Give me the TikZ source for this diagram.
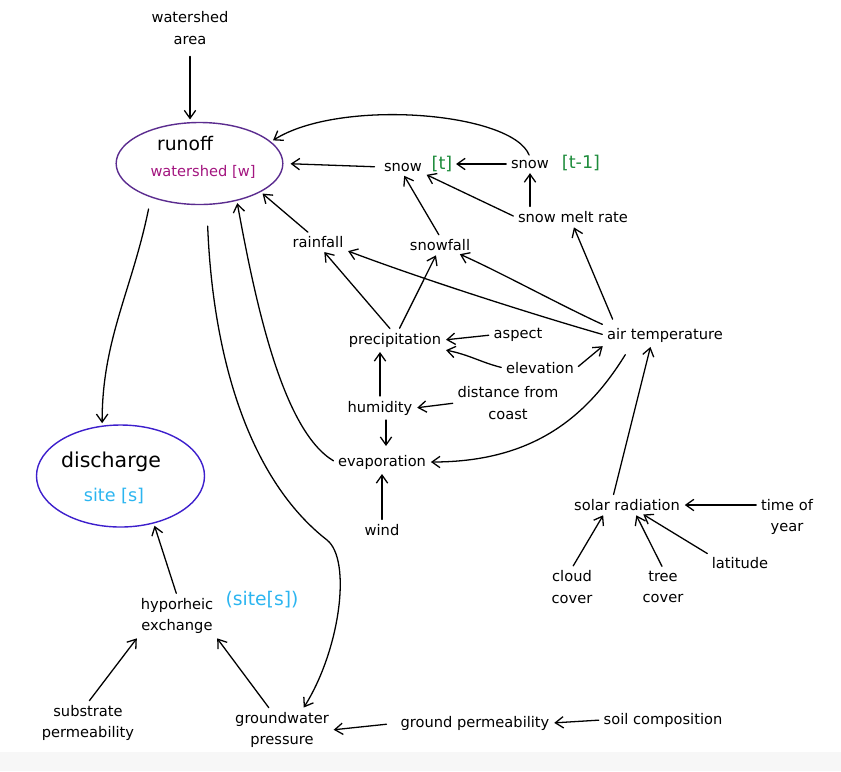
\documentclass[tikz,border=0pt]{standalone}
\usepackage{fontspec}
\setmainfont{DejaVu Sans}
\usetikzlibrary{arrows.meta,calc,shapes.geometric}
\definecolor{runoffc}{HTML}{5B2C8F}
\definecolor{wshedc}{HTML}{A3157F}
\definecolor{dischc}{HTML}{3D1FCC}
\definecolor{sitec}{HTML}{2CB5F0}
\definecolor{snowc}{HTML}{1E8C3C}
\begin{document}
\begin{tikzpicture}[x=0.03cm,y=-0.03cm,
  lbl/.style={font=\fontsize{12.5}{18.5}\selectfont, inner sep=2pt, align=center},
  tag/.style={font=\fontsize{15}{17}\selectfont, inner sep=1pt},
  blob/.style={ellipse, line width=1.2pt, inner sep=0pt},
  arr/.style={-{Straight Barb[length=2.4mm,width=3.4mm]}, line width=1.1pt, line cap=round, shorten >=2pt, shorten <=2pt},
]
\useasboundingbox (0,0) rectangle (841,771);
\fill[black!3] (0,752) rectangle (841,771);

% ---- main blobs
\node[blob, draw=runoffc, minimum width=5.0cm, minimum height=2.46cm] (runoff) at (199.5,163.5) {};
\node[font=\fontsize{16}{18}\selectfont, inner sep=1pt] (runofft) at (185,144) {runoff};
\node[font=\fontsize{12.5}{14}\selectfont, text=wshedc, inner sep=1pt] (runoffw) at (203,172) {watershed [w]};

\node[blob, draw=dischc, minimum width=5.04cm, minimum height=3.06cm] (disch) at (120.5,476) {};
\node[font=\fontsize{17.5}{20}\selectfont, inner sep=1pt] (discht) at (111,462) {discharge};
\node[font=\fontsize{15}{17}\selectfont, text=sitec, inner sep=1pt] (dischs) at (114,496) {site [s]};

% ---- labels
\node[lbl] (wa) at (190,28) {watershed\\area};
\node[lbl] (snowt) at (403,167) {snow};
\node[tag, text=snowc] (snowtb) at (442,164) {[t]};
\node[lbl] (snowtm1) at (530,164) {snow};
\node[tag, text=snowc] (snowtm1b) at (581,163) {[t-1]};
\node[lbl] (snowmelt) at (573,217) {snow melt rate};
\node[lbl] (rainfall) at (318,242) {rainfall};
\node[lbl] (snowfall) at (440,245) {snowfall};
\node[lbl] (precip) at (395,340) {precipitation};
\node[lbl] (aspect) at (518,335) {aspect};
\node[lbl] (airtemp) at (665,335) {air temperature};
\node[lbl] (elev) at (540,368) {elevation};
\node[lbl] (humid) at (380,408) {humidity};
\node[lbl] (dist) at (508,403) {distance from\\coast};
\node[lbl] (evap) at (382,462) {evaporation};
\node[lbl] (wind) at (382,530) {wind};
\node[lbl] (solar) at (627,505) {solar radiation};
\node[lbl] (timey) at (787,517) {time of\\year};
\node[lbl] (lat) at (740,563) {latitude};
\node[lbl] (cloud) at (572,587) {cloud\\cover};
\node[lbl] (tree) at (663,587) {tree\\cover};
\node[lbl] (hypo) at (177,616) {hyporheic\\exchange};
\node[tag, font=\fontsize{16}{18}\selectfont, text=sitec] (hyposite) at (262,600) {(site[s])};
\node[lbl] (subst) at (88,723) {substrate\\permeability};
\node[lbl] (gw) at (282,730) {groundwater\\pressure};
\node[lbl] (gperm) at (475,723) {ground permeability};
\node[lbl] (soil) at (663,720) {soil composition};

% ---- connectors
\draw[arr, shorten <=8pt] (wa.south) -- (wa.south |- runoff.north);
\draw[arr, shorten <=6pt, shorten >=6pt] (snowt.west) -- (runoff.east);
\draw[arr, shorten <=2pt] (snowtm1.north) .. controls (512,112) and (340,98) .. (runoff.17);
\draw[arr] (snowtm1.west) -- (snowtb.east);
\draw[arr] (snowmelt.north -| snowtm1) -- (snowtm1.south);
\draw[arr] (snowmelt.west) -- (snowt.south east);
\draw[arr] (snowfall.north) -- (snowt.south);
\draw[arr] (rainfall.135) -- (runoff.-25);
\draw[arr] (precip.110) -- (rainfall.-60);
\draw[arr] (precip.70) -- (snowfall.-110);
\draw[arr] (airtemp.west) .. controls (545,318) and (430,282) .. (rainfall.south east);
\draw[arr] (airtemp.north west) .. controls (560,305) and (500,272) .. (snowfall.-25);
\draw[arr] ($(airtemp.north west)+(9,-4)$) -- (snowmelt.south);
\draw[arr] (aspect.west) -- (precip.east);
\draw[arr] (elev.west) .. controls (480,362) and (470,355) .. (precip.south east);
\draw[arr] (elev.east) -- (airtemp.south west);
\draw[arr] (humid.north) -- (humid.north |- precip.south);
\draw[arr] (humid.south -| evap) ++(4,0) -- ($(evap.north)+(4,-4)$);
\draw[arr] (dist.west) -- (humid.east);
\draw[arr] ($(airtemp.south west)+(22,8)$) .. controls (585,420) and (530,462) .. (evap.east);
\draw[arr] (wind.north) -- (evap.south);
\draw[arr] (evap.west) .. controls (282,430) and (255,300) .. (runoff.-45);
\draw[arr, shorten <=10pt] (runoff.-145) .. controls (132,290) and (102,340) .. (disch.110);
\draw[arr, shorten <=18pt] (runoff.-80) .. controls (213,360) and (250,480) .. (327,540)
   .. controls (352,560) and (340,650) .. (gw.45);
\draw[arr] ($(solar.north)+(-14,0)$) -- ($(airtemp.south)+(-14,0)$);
\draw[arr] (timey.west |- solar) -- (solar.east);
\draw[arr] (lat.north west) -- (solar.-30);
\draw[arr] (tree.north) -- (solar.-45);
\draw[arr] (cloud.north) -- (solar.-160);
\draw[arr] (hypo.north) -- (disch.-55);
\draw[arr] (subst.north) -- (hypo.south west);
\draw[arr] (gw.120) -- (hypo.south east);
\draw[arr, shorten <=10pt] (gperm.west) -- (gw.east);
\draw[arr] (soil.west) -- (gperm.east);
\end{tikzpicture}
\end{document}
